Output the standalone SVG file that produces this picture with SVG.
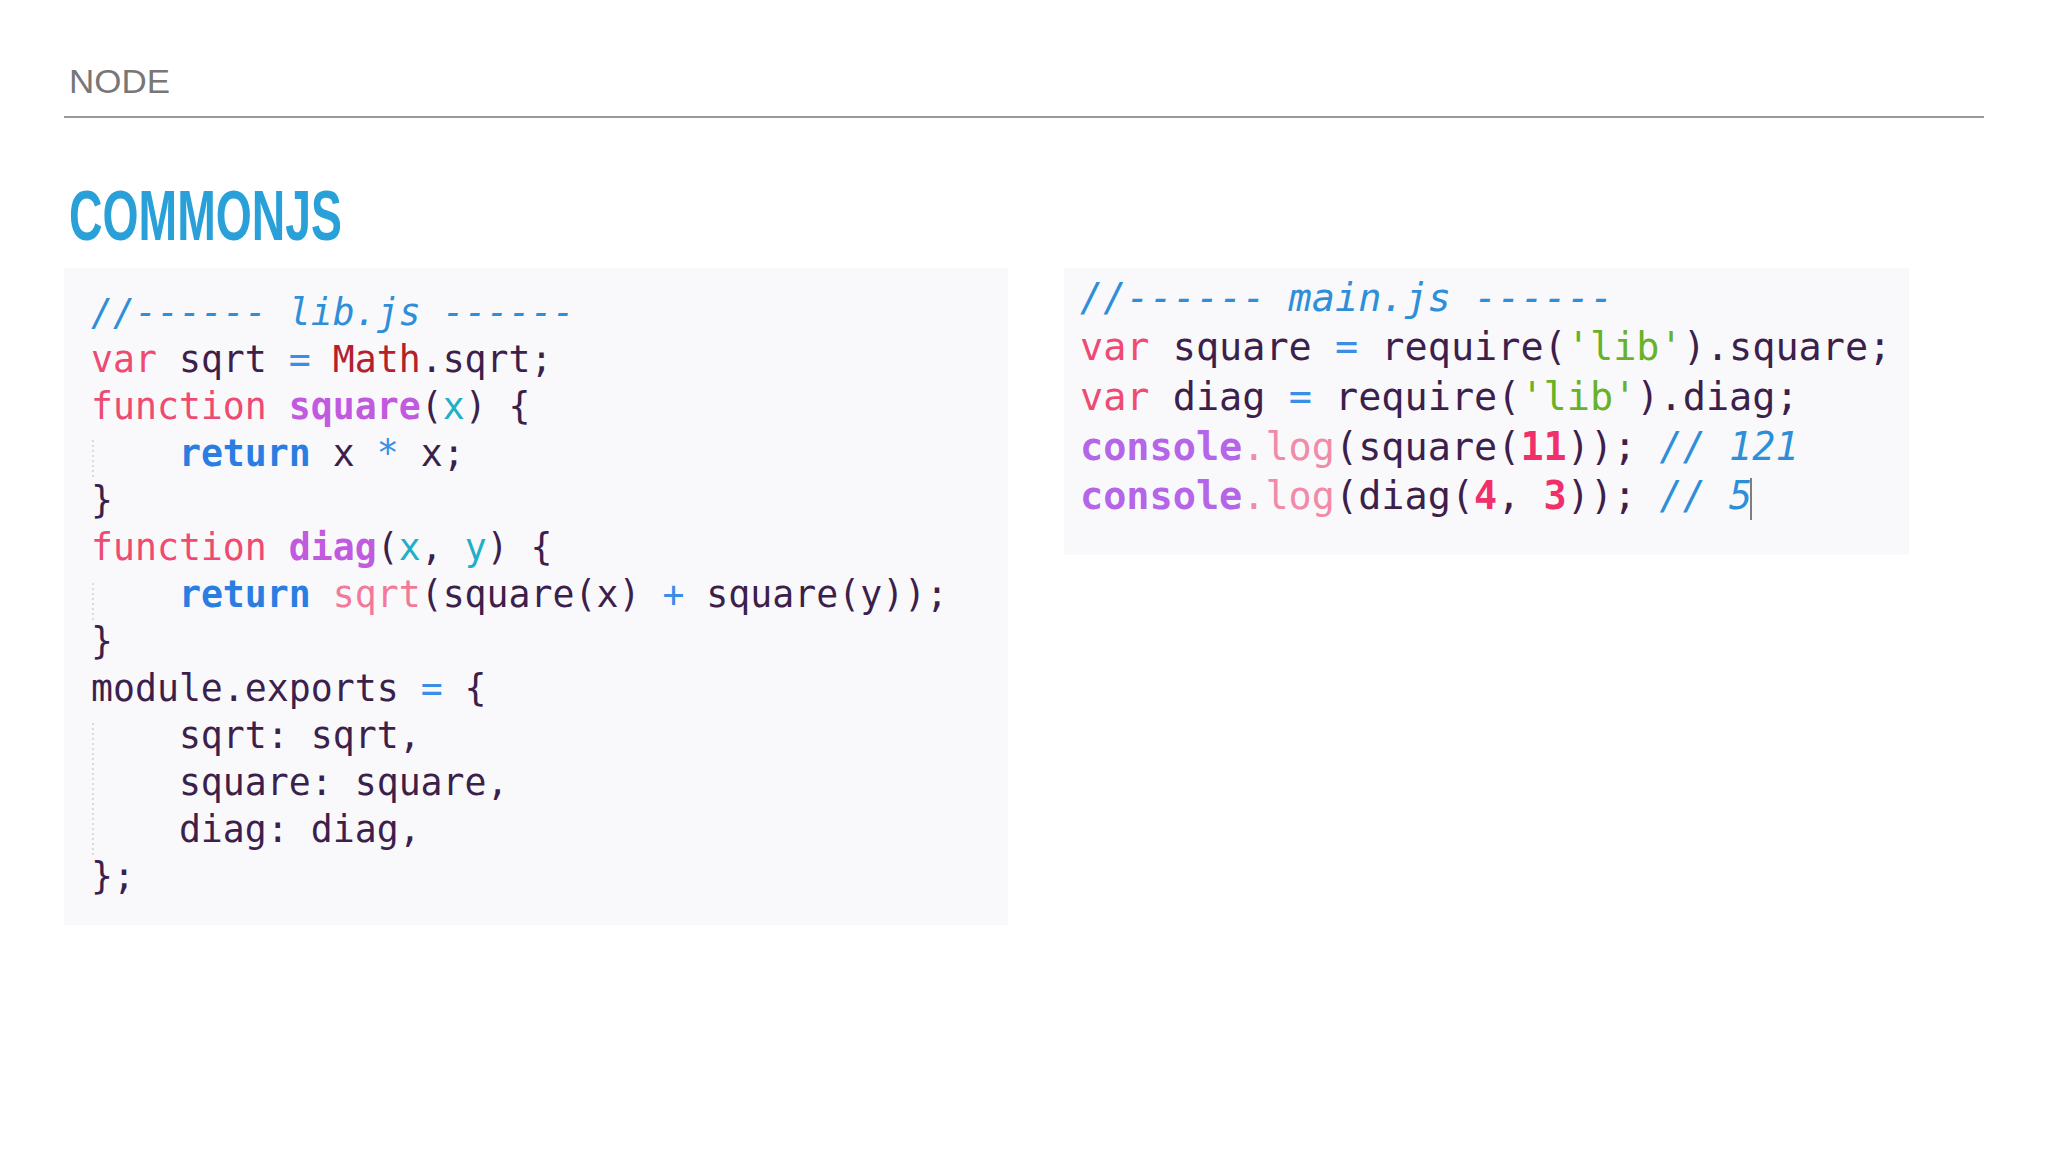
<svg xmlns="http://www.w3.org/2000/svg" width="2048" height="1152" viewBox="0 0 2048 1152">
<style>
.c{font-family:"DejaVu Sans Mono","Liberation Mono",monospace;font-size:36.5px;fill:#3d1f4c;white-space:pre}
.c2{font-size:38.5px}
.cm{fill:#2e8fd8;font-style:italic}
.kw{fill:#ee4a72}
.op{fill:#3a8ee6}
.mt{fill:#b3202e}
.fn{fill:#c25ae0;font-weight:bold}
.pa{fill:#1fb0c8}
.rt{fill:#2a7de1;font-weight:bold}
.sq{fill:#f27a98}
.st{fill:#68b22a}
.co{fill:#b565e8;font-weight:bold}
.lg{fill:#f28aa8}
.nu{fill:#f0306a;font-weight:bold}
.guide{stroke:#cfcfd6;stroke-width:1.5;stroke-dasharray:2 3}
</style>
<rect width="2048" height="1152" fill="#fff"/>
<g id="header">
<text x="69" y="93" font-family="Liberation Sans,sans-serif" font-size="34" fill="#777" textLength="101" lengthAdjust="spacingAndGlyphs">NODE</text>
<line x1="64" y1="117" x2="1984" y2="117" stroke="#999" stroke-width="2"/>
<text x="69" y="240" font-family="Liberation Sans,sans-serif" font-weight="bold" font-size="70" fill="#2aa0d8" textLength="273" lengthAdjust="spacingAndGlyphs">COMMONJS</text>
</g>
<g id="lib">
<rect x="64" y="268" width="944" height="657" fill="#f9f9fc"/>
<line class="guide" x1="93" y1="440" x2="93" y2="480"/>
<line class="guide" x1="93" y1="583" x2="93" y2="622"/>
<line class="guide" x1="93" y1="723" x2="93" y2="857"/>
<text class="c" xml:space="preserve">
<tspan x="91" y="325" class="cm">//------ lib.js ------</tspan>
<tspan x="91" y="372"><tspan class="kw">var</tspan> sqrt <tspan class="op">=</tspan> <tspan class="mt">Math</tspan>.sqrt;</tspan>
<tspan x="91" y="419"><tspan class="kw">function</tspan> <tspan class="fn">square</tspan>(<tspan class="pa">x</tspan>) {</tspan>
<tspan x="91" y="466">    <tspan class="rt">return</tspan> x <tspan class="op">*</tspan> x;</tspan>
<tspan x="91" y="513">}</tspan>
<tspan x="91" y="560"><tspan class="kw">function</tspan> <tspan class="fn">diag</tspan>(<tspan class="pa">x</tspan>, <tspan class="pa">y</tspan>) {</tspan>
<tspan x="91" y="607">    <tspan class="rt">return</tspan> <tspan class="sq">sqrt</tspan>(square(x) <tspan class="op">+</tspan> square(y));</tspan>
<tspan x="91" y="654">}</tspan>
<tspan x="91" y="701">module.exports <tspan class="op">=</tspan> {</tspan>
<tspan x="91" y="748">    sqrt: sqrt,</tspan>
<tspan x="91" y="795">    square: square,</tspan>
<tspan x="91" y="842">    diag: diag,</tspan>
<tspan x="91" y="889">};</tspan>
</text>
</g>
<g id="main">
<rect x="1064" y="268" width="845" height="287" fill="#f9f9fc"/>
<text class="c c2" xml:space="preserve">
<tspan x="1080" y="311" class="cm">//------ main.js ------</tspan>
<tspan x="1080" y="360"><tspan class="kw">var</tspan> square <tspan class="op">=</tspan> require(<tspan class="st">'lib'</tspan>).square;</tspan>
<tspan x="1080" y="410"><tspan class="kw">var</tspan> diag <tspan class="op">=</tspan> require(<tspan class="st">'lib'</tspan>).diag;</tspan>
<tspan x="1080" y="460"><tspan class="co">console</tspan><tspan class="lg">.log</tspan>(square(<tspan class="nu">11</tspan>)); <tspan class="cm">// 121</tspan></tspan>
<tspan x="1080" y="509"><tspan class="co">console</tspan><tspan class="lg">.log</tspan>(diag(<tspan class="nu">4</tspan>, <tspan class="nu">3</tspan>)); <tspan class="cm">// 5</tspan></tspan>
</text>
<line x1="1751" y1="478" x2="1751" y2="520" stroke="#555" stroke-width="1.5"/>
</g>
</svg>
